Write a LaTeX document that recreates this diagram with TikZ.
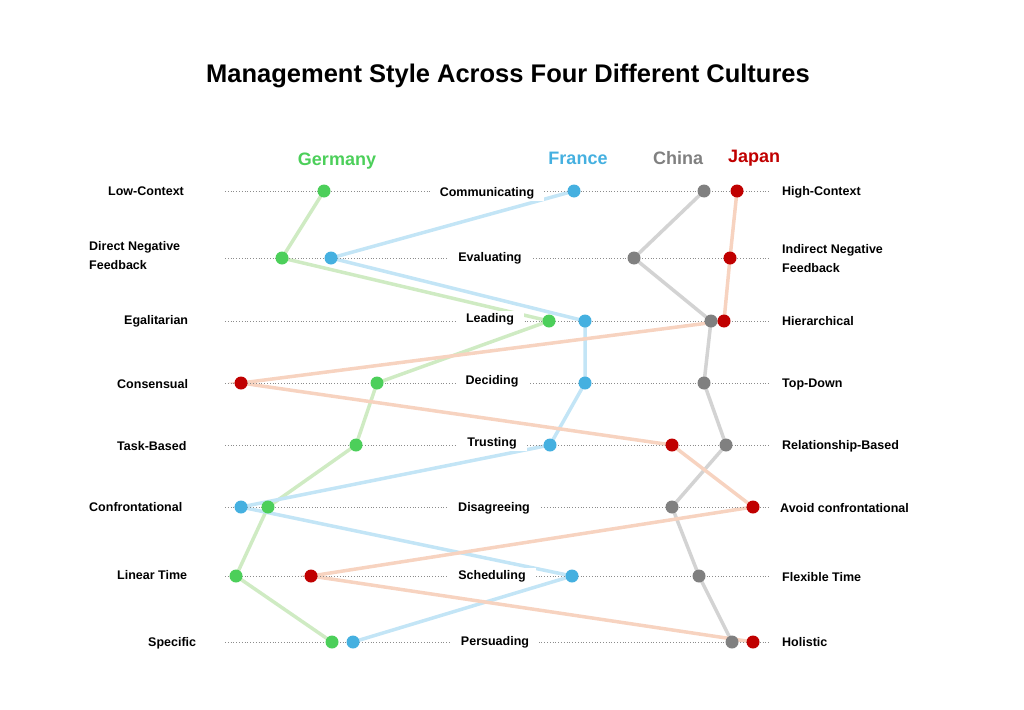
\documentclass[tikz,border=0pt]{standalone}
\usepackage{fontspec}
\setmainfont{Liberation Sans}
\usetikzlibrary{backgrounds}
\definecolor{dg}{HTML}{4CCF5A}\definecolor{db}{HTML}{45B0E0}
\definecolor{dc}{HTML}{808080}\definecolor{dr}{HTML}{C00000}
\definecolor{pg}{HTML}{CFEBC3}\definecolor{pb}{HTML}{C3E5F6}
\definecolor{pc}{HTML}{D3D3D3}\definecolor{pr}{HTML}{F7D3C0}
\tikzset{dot/.style={circle,inner sep=0pt,minimum size=13pt},
 lab/.style={font=\bfseries\fontsize{12.5}{19}\selectfont,align=left},
 mid/.style={lab,fill=white,inner xsep=10pt,inner ysep=2pt},
 conn/.style={line width=3.5pt},
 grid/.style={dotted,black!45,line width=0.8pt},
 head/.style={font=\bfseries\fontsize{18}{20}\selectfont}}
\begin{document}
\begin{tikzpicture}[x=1pt,y=-1pt]
\useasboundingbox (0,0) rectangle (1024,709);
\node[font=\bfseries\fontsize{25.5}{30}\selectfont] (title) at (508,76) {Management Style Across Four Different Cultures};
\foreach \y [count=\i] in {191,258,321,383,445,507,576,642}{
  \coordinate (L\i) at (225,\y); \coordinate (R\i) at (770,\y);
  \draw[grid] (L\i) -- (R\i);}
\foreach \t/\x/\y [count=\i] in {Communicating/487/193,Evaluating/490/258,Leading/490/319,Deciding/492/381,Trusting/492/443,Disagreeing/494/508,Scheduling/492/576,Persuading/495/642}
  \node[mid] (m\i) at (\x,\y) {\t};
\foreach \t/\x/\y [count=\i] in {Low-Context/108/191,Egalitarian/124/321,Consensual/117/384,Task-Based/117/446,Confrontational/89/507,Linear Time/117/575,Specific/148/643}
  \node[lab,anchor=west,inner xsep=0pt] (l\i) at (\x,\y) {\t};
\node[lab,anchor=west,inner xsep=0pt] (ldn) at (89,256) {Direct Negative\\Feedback};
\foreach \t/\y [count=\i] in {High-Context/192,Hierarchical/321,Top-Down/384,Relationship-Based/446,Flexible Time/577,Holistic/642}
  \node[lab,anchor=west,inner xsep=0pt] (r\i) at (782,\y) {\t};
\node[lab,anchor=west,inner xsep=0pt] (rin) at (782,259) {Indirect Negative\\Feedback};
\node[lab,anchor=west,inner xsep=0pt] (rav) at (780,508) {Avoid confrontational};
\node[head,text=dg] (hg) at (337,161) {Germany};
\node[head,text=db] (hf) at (578,158) {France};
\node[head,text=dc] (hc) at (678,158) {China};
\node[head,text=dr] (hj) at (754,158) {Japan};
\foreach \nm/\col/\xa/\xb/\xc/\xd/\xe/\xf/\xg/\xh in {g/dg/324/282/549/377/356/268/236/332,
  f/db/574/331/585/585/550/241/572/353,
  c/dc/704/634/711/704/726/672/699/732,
  j/dr/737/730/724/241/672/753/311/753}{
  \node[dot,fill=\col] (\nm1) at (\xa,191) {};
  \node[dot,fill=\col] (\nm2) at (\xb,258) {};
  \node[dot,fill=\col] (\nm3) at (\xc,321) {};
  \node[dot,fill=\col] (\nm4) at (\xd,383) {};
  \node[dot,fill=\col] (\nm5) at (\xe,445) {};
  \node[dot,fill=\col] (\nm6) at (\xf,507) {};
  \node[dot,fill=\col] (\nm7) at (\xg,576) {};
  \node[dot,fill=\col] (\nm8) at (\xh,642) {};
}
\begin{scope}[on background layer]
\foreach \nm/\col in {g/pg,f/pb,c/pc,j/pr}
  \draw[conn,draw=\col] (\nm1.center)--(\nm2.center)--(\nm3.center)--(\nm4.center)--(\nm5.center)--(\nm6.center)--(\nm7.center)--(\nm8.center);
\end{scope}
\end{tikzpicture}
\end{document}
